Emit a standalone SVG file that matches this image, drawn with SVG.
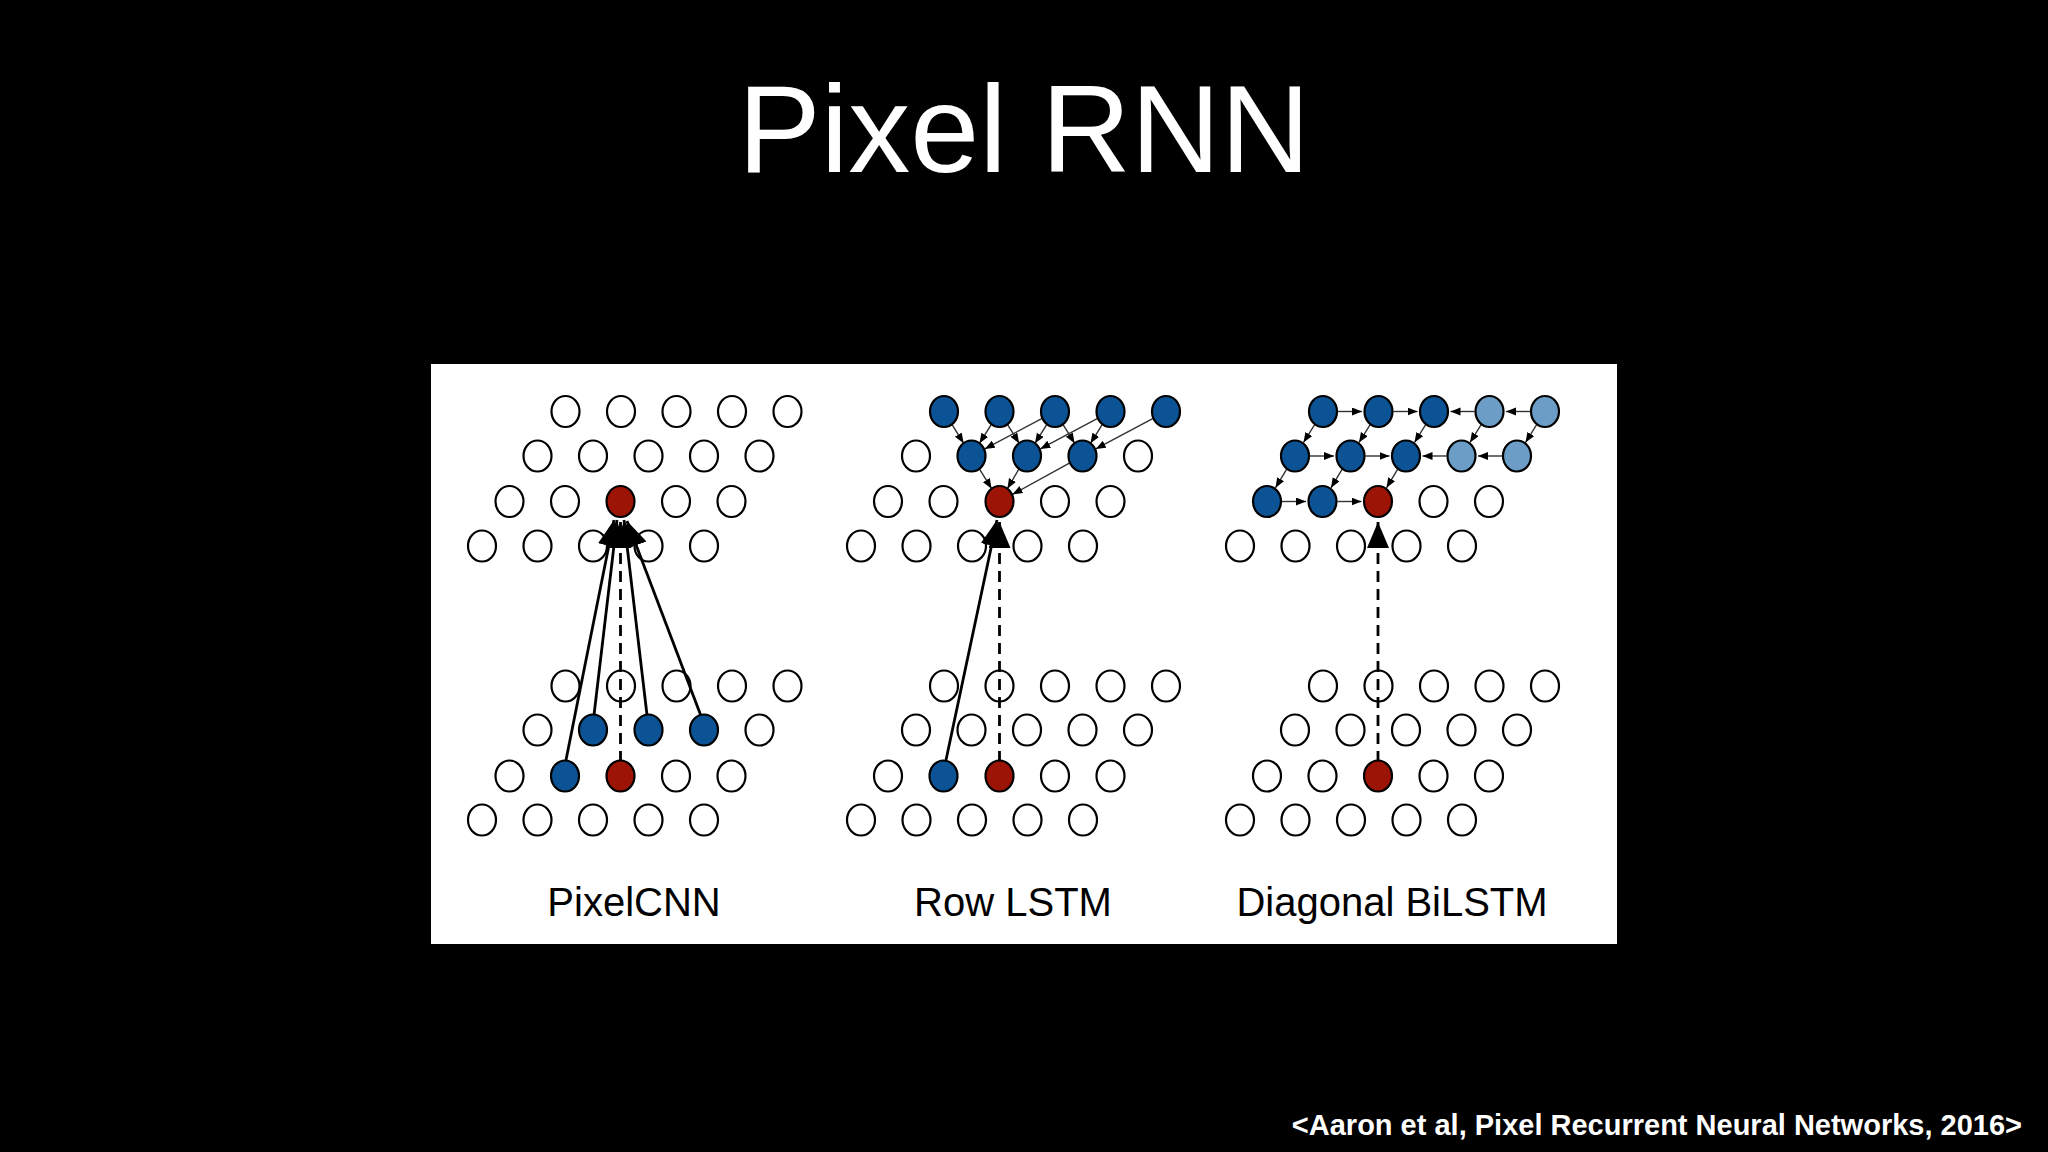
<svg xmlns="http://www.w3.org/2000/svg" width="2048" height="1152" viewBox="0 0 2048 1152">
<defs>
<style>
.n{stroke:#000;stroke-width:2.2}
.w{fill:#fff}.b{fill:#0b5394}.l{fill:#6b9dc6}.r{fill:#9b1405}
.big{stroke:#000;stroke-width:2.8;fill:none}
.dash{stroke:#000;stroke-width:2.8;fill:none;stroke-dasharray:11,7}
.sm{stroke:#333;stroke-width:1.4;fill:none}
.lab{font-family:"Liberation Sans",Arial,sans-serif;font-size:40px;fill:#000;text-anchor:middle}
</style>
<marker id="bh" markerUnits="userSpaceOnUse" markerWidth="30" markerHeight="24" refX="26" refY="11" orient="auto"><path d="M0,0 L26,11 L0,22 z" fill="#000"/></marker>
<marker id="sh" markerUnits="userSpaceOnUse" markerWidth="12" markerHeight="10" refX="10" refY="4" orient="auto"><path d="M0,0 L10,4 L0,8 z" fill="#000"/></marker>
</defs>
<rect width="2048" height="1152" fill="#000"/>
<text x="1024" y="172" font-family="Liberation Sans,Arial,sans-serif" font-size="124" fill="#fff" text-anchor="middle">Pixel RNN</text>
<rect x="431" y="364" width="1186" height="580" fill="#fff"/>

<g id="connectors">
<!-- PixelCNN -->
<line class="dash" x1="620.5" y1="762" x2="620.5" y2="522" marker-end="url(#bh)"/>
<line class="big" x1="566" y1="760" x2="614" y2="520" marker-end="url(#bh)"/>
<line class="big" x1="594" y1="715" x2="617" y2="520" marker-end="url(#bh)"/>
<line class="big" x1="647" y1="715" x2="624" y2="520" marker-end="url(#bh)"/>
<line class="big" x1="701" y1="716" x2="627" y2="521" marker-end="url(#bh)"/>
<!-- Row LSTM -->
<line class="dash" x1="999.5" y1="762" x2="999.5" y2="522" marker-end="url(#bh)"/>
<line class="big" x1="946" y1="760" x2="997" y2="520" marker-end="url(#bh)"/>
<line class="sm" x1="951.9" y1="424.3" x2="963.6" y2="443.2" marker-end="url(#sh)"/>
<line class="sm" x1="991.5" y1="424.2" x2="979.5" y2="443.3" marker-end="url(#sh)"/>
<line class="sm" x1="1041.7" y1="418.6" x2="984.8" y2="448.9" marker-end="url(#sh)"/>
<line class="sm" x1="1007.4" y1="424.3" x2="1019.1" y2="443.2" marker-end="url(#sh)"/>
<line class="sm" x1="1047" y1="424.2" x2="1035" y2="443.3" marker-end="url(#sh)"/>
<line class="sm" x1="1097.2" y1="418.6" x2="1040.3" y2="448.9" marker-end="url(#sh)"/>
<line class="sm" x1="1062.9" y1="424.3" x2="1074.6" y2="443.2" marker-end="url(#sh)"/>
<line class="sm" x1="1102.5" y1="424.2" x2="1090.5" y2="443.3" marker-end="url(#sh)"/>
<line class="sm" x1="1152.7" y1="418.6" x2="1095.8" y2="448.9" marker-end="url(#sh)"/>
<line class="sm" x1="979.4" y1="468.8" x2="991.6" y2="488.7" marker-end="url(#sh)"/>
<line class="sm" x1="1019" y1="468.8" x2="1007.4" y2="488.7" marker-end="url(#sh)"/>
<line class="sm" x1="1069.4" y1="463.2" x2="1012.6" y2="494.3" marker-end="url(#sh)"/>
<!-- Diagonal BiLSTM -->
<line class="dash" x1="1378" y1="762" x2="1378" y2="522" marker-end="url(#bh)"/>
<line class="sm" x1="1338" y1="411.5" x2="1362" y2="411.5" marker-end="url(#sh)"/>
<line class="sm" x1="1393.5" y1="411.5" x2="1417.5" y2="411.5" marker-end="url(#sh)"/>
<line class="sm" x1="1474.5" y1="411.5" x2="1450.5" y2="411.5" marker-end="url(#sh)"/>
<line class="sm" x1="1530" y1="411.5" x2="1506" y2="411.5" marker-end="url(#sh)"/>
<line class="sm" x1="1310" y1="456" x2="1334" y2="456" marker-end="url(#sh)"/>
<line class="sm" x1="1365.5" y1="456" x2="1389.5" y2="456" marker-end="url(#sh)"/>
<line class="sm" x1="1446.5" y1="456" x2="1422.5" y2="456" marker-end="url(#sh)"/>
<line class="sm" x1="1502" y1="456" x2="1478" y2="456" marker-end="url(#sh)"/>
<line class="sm" x1="1282" y1="501.5" x2="1306" y2="501.5" marker-end="url(#sh)"/>
<line class="sm" x1="1337.5" y1="501.5" x2="1361.5" y2="501.5" marker-end="url(#sh)"/>
<line class="sm" x1="1315" y1="424.2" x2="1303.5" y2="442.5" marker-end="url(#sh)"/>
<line class="sm" x1="1370.5" y1="424.2" x2="1359" y2="442.5" marker-end="url(#sh)"/>
<line class="sm" x1="1426" y1="424.2" x2="1414.5" y2="442.5" marker-end="url(#sh)"/>
<line class="sm" x1="1481.5" y1="424.2" x2="1470" y2="442.5" marker-end="url(#sh)"/>
<line class="sm" x1="1537" y1="424.2" x2="1525.5" y2="442.5" marker-end="url(#sh)"/>
<line class="sm" x1="1287" y1="468.7" x2="1275.5" y2="487.8" marker-end="url(#sh)"/>
<line class="sm" x1="1342.5" y1="468.7" x2="1331" y2="487.8" marker-end="url(#sh)"/>
<line class="sm" x1="1398" y1="468.7" x2="1386.5" y2="487.8" marker-end="url(#sh)"/>
</g>

<g id="pixelcnn">
<g id="pc-top">
<ellipse class="n w" cx="565.5" cy="411.5" rx="14" ry="15.5"/><ellipse class="n w" cx="621" cy="411.5" rx="14" ry="15.5"/><ellipse class="n w" cx="676.5" cy="411.5" rx="14" ry="15.5"/><ellipse class="n w" cx="732" cy="411.5" rx="14" ry="15.5"/><ellipse class="n w" cx="787.5" cy="411.5" rx="14" ry="15.5"/>
<ellipse class="n w" cx="537.5" cy="456" rx="14" ry="15.5"/><ellipse class="n w" cx="593" cy="456" rx="14" ry="15.5"/><ellipse class="n w" cx="648.5" cy="456" rx="14" ry="15.5"/><ellipse class="n w" cx="704" cy="456" rx="14" ry="15.5"/><ellipse class="n w" cx="759.5" cy="456" rx="14" ry="15.5"/>
<ellipse class="n w" cx="509.5" cy="501.5" rx="14" ry="15.5"/><ellipse class="n w" cx="565" cy="501.5" rx="14" ry="15.5"/><ellipse class="n r" cx="620.5" cy="501.5" rx="14" ry="15.5"/><ellipse class="n w" cx="676" cy="501.5" rx="14" ry="15.5"/><ellipse class="n w" cx="731.5" cy="501.5" rx="14" ry="15.5"/>
<ellipse class="n w" cx="482" cy="546" rx="14" ry="15.5" fill-opacity="0"/><ellipse class="n" fill="none" cx="537.5" cy="546" rx="14" ry="15.5"/><ellipse class="n" fill="none" cx="593" cy="546" rx="14" ry="15.5"/><ellipse class="n" fill="none" cx="648.5" cy="546" rx="14" ry="15.5"/><ellipse class="n" fill="none" cx="704" cy="546" rx="14" ry="15.5"/>
</g>
<g id="pc-bottom">
<ellipse class="n" fill="none" cx="565.5" cy="686" rx="14" ry="15.5"/><ellipse class="n" fill="none" cx="621" cy="686" rx="14" ry="15.5"/><ellipse class="n" fill="none" cx="676.5" cy="686" rx="14" ry="15.5"/><ellipse class="n w" cx="732" cy="686" rx="14" ry="15.5"/><ellipse class="n w" cx="787.5" cy="686" rx="14" ry="15.5"/>
<ellipse class="n w" cx="537.5" cy="730" rx="14" ry="15.5"/><ellipse class="n b" cx="593" cy="730" rx="14" ry="15.5"/><ellipse class="n b" cx="648.5" cy="730" rx="14" ry="15.5"/><ellipse class="n b" cx="704" cy="730" rx="14" ry="15.5"/><ellipse class="n w" cx="759.5" cy="730" rx="14" ry="15.5"/>
<ellipse class="n w" cx="509.5" cy="776" rx="14" ry="15.5"/><ellipse class="n b" cx="565" cy="776" rx="14" ry="15.5"/><ellipse class="n r" cx="620.5" cy="776" rx="14" ry="15.5"/><ellipse class="n w" cx="676" cy="776" rx="14" ry="15.5"/><ellipse class="n w" cx="731.5" cy="776" rx="14" ry="15.5"/>
<ellipse class="n w" cx="482" cy="820" rx="14" ry="15.5"/><ellipse class="n w" cx="537.5" cy="820" rx="14" ry="15.5"/><ellipse class="n w" cx="593" cy="820" rx="14" ry="15.5"/><ellipse class="n w" cx="648.5" cy="820" rx="14" ry="15.5"/><ellipse class="n w" cx="704" cy="820" rx="14" ry="15.5"/>
</g>
<text class="lab" x="634" y="916">PixelCNN</text>
</g>

<g id="rowlstm">
<g id="rl-top">
<ellipse class="n b" cx="944" cy="411.5" rx="14" ry="15.5"/><ellipse class="n b" cx="999.5" cy="411.5" rx="14" ry="15.5"/><ellipse class="n b" cx="1055" cy="411.5" rx="14" ry="15.5"/><ellipse class="n b" cx="1110.5" cy="411.5" rx="14" ry="15.5"/><ellipse class="n b" cx="1166" cy="411.5" rx="14" ry="15.5"/>
<ellipse class="n w" cx="916" cy="456" rx="14" ry="15.5"/><ellipse class="n b" cx="971.5" cy="456" rx="14" ry="15.5"/><ellipse class="n b" cx="1027" cy="456" rx="14" ry="15.5"/><ellipse class="n b" cx="1082.5" cy="456" rx="14" ry="15.5"/><ellipse class="n w" cx="1138" cy="456" rx="14" ry="15.5"/>
<ellipse class="n w" cx="888" cy="501.5" rx="14" ry="15.5"/><ellipse class="n w" cx="943.5" cy="501.5" rx="14" ry="15.5"/><ellipse class="n r" cx="999.5" cy="501.5" rx="14" ry="15.5"/><ellipse class="n w" cx="1055" cy="501.5" rx="14" ry="15.5"/><ellipse class="n w" cx="1110.5" cy="501.5" rx="14" ry="15.5"/>
<ellipse class="n w" cx="861" cy="546" rx="14" ry="15.5"/><ellipse class="n w" cx="916.5" cy="546" rx="14" ry="15.5"/><ellipse class="n" fill="none" cx="972" cy="546" rx="14" ry="15.5"/><ellipse class="n" fill="none" cx="1027.5" cy="546" rx="14" ry="15.5"/><ellipse class="n w" cx="1083" cy="546" rx="14" ry="15.5"/>
</g>
<g id="rl-bottom">
<ellipse class="n" fill="none" cx="944" cy="686" rx="14" ry="15.5"/><ellipse class="n" fill="none" cx="999.5" cy="686" rx="14" ry="15.5"/><ellipse class="n w" cx="1055" cy="686" rx="14" ry="15.5"/><ellipse class="n w" cx="1110.5" cy="686" rx="14" ry="15.5"/><ellipse class="n w" cx="1166" cy="686" rx="14" ry="15.5"/>
<ellipse class="n w" cx="916" cy="730" rx="14" ry="15.5"/><ellipse class="n" fill="none" cx="971.5" cy="730" rx="14" ry="15.5"/><ellipse class="n" fill="none" cx="1027" cy="730" rx="14" ry="15.5"/><ellipse class="n w" cx="1082.5" cy="730" rx="14" ry="15.5"/><ellipse class="n w" cx="1138" cy="730" rx="14" ry="15.5"/>
<ellipse class="n w" cx="888" cy="776" rx="14" ry="15.5"/><ellipse class="n b" cx="943.5" cy="776" rx="14" ry="15.5"/><ellipse class="n r" cx="999.5" cy="776" rx="14" ry="15.5"/><ellipse class="n w" cx="1055" cy="776" rx="14" ry="15.5"/><ellipse class="n w" cx="1110.5" cy="776" rx="14" ry="15.5"/>
<ellipse class="n w" cx="861" cy="820" rx="14" ry="15.5"/><ellipse class="n w" cx="916.5" cy="820" rx="14" ry="15.5"/><ellipse class="n w" cx="972" cy="820" rx="14" ry="15.5"/><ellipse class="n w" cx="1027.5" cy="820" rx="14" ry="15.5"/><ellipse class="n w" cx="1083" cy="820" rx="14" ry="15.5"/>
</g>
<text class="lab" x="1013" y="916">Row LSTM</text>
</g>

<g id="diagbilstm">
<g id="db-top">
<ellipse class="n b" cx="1323" cy="411.5" rx="14" ry="15.5"/><ellipse class="n b" cx="1378.5" cy="411.5" rx="14" ry="15.5"/><ellipse class="n b" cx="1434" cy="411.5" rx="14" ry="15.5"/><ellipse class="n l" cx="1489.5" cy="411.5" rx="14" ry="15.5"/><ellipse class="n l" cx="1545" cy="411.5" rx="14" ry="15.5"/>
<ellipse class="n b" cx="1295" cy="456" rx="14" ry="15.5"/><ellipse class="n b" cx="1350.5" cy="456" rx="14" ry="15.5"/><ellipse class="n b" cx="1406" cy="456" rx="14" ry="15.5"/><ellipse class="n l" cx="1461.5" cy="456" rx="14" ry="15.5"/><ellipse class="n l" cx="1517" cy="456" rx="14" ry="15.5"/>
<ellipse class="n b" cx="1267" cy="501.5" rx="14" ry="15.5"/><ellipse class="n b" cx="1322.5" cy="501.5" rx="14" ry="15.5"/><ellipse class="n r" cx="1378" cy="501.5" rx="14" ry="15.5"/><ellipse class="n w" cx="1433.5" cy="501.5" rx="14" ry="15.5"/><ellipse class="n w" cx="1489" cy="501.5" rx="14" ry="15.5"/>
<ellipse class="n w" cx="1240" cy="546" rx="14" ry="15.5"/><ellipse class="n w" cx="1295.5" cy="546" rx="14" ry="15.5"/><ellipse class="n" fill="none" cx="1351" cy="546" rx="14" ry="15.5"/><ellipse class="n" fill="none" cx="1406.5" cy="546" rx="14" ry="15.5"/><ellipse class="n w" cx="1462" cy="546" rx="14" ry="15.5"/>
</g>
<g id="db-bottom">
<ellipse class="n w" cx="1323" cy="686" rx="14" ry="15.5"/><ellipse class="n" fill="none" cx="1378.5" cy="686" rx="14" ry="15.5"/><ellipse class="n w" cx="1434" cy="686" rx="14" ry="15.5"/><ellipse class="n w" cx="1489.5" cy="686" rx="14" ry="15.5"/><ellipse class="n w" cx="1545" cy="686" rx="14" ry="15.5"/>
<ellipse class="n w" cx="1295" cy="730" rx="14" ry="15.5"/><ellipse class="n" fill="none" cx="1350.5" cy="730" rx="14" ry="15.5"/><ellipse class="n" fill="none" cx="1406" cy="730" rx="14" ry="15.5"/><ellipse class="n w" cx="1461.5" cy="730" rx="14" ry="15.5"/><ellipse class="n w" cx="1517" cy="730" rx="14" ry="15.5"/>
<ellipse class="n w" cx="1267" cy="776" rx="14" ry="15.5"/><ellipse class="n w" cx="1322.5" cy="776" rx="14" ry="15.5"/><ellipse class="n r" cx="1378" cy="776" rx="14" ry="15.5"/><ellipse class="n w" cx="1433.5" cy="776" rx="14" ry="15.5"/><ellipse class="n w" cx="1489" cy="776" rx="14" ry="15.5"/>
<ellipse class="n w" cx="1240" cy="820" rx="14" ry="15.5"/><ellipse class="n w" cx="1295.5" cy="820" rx="14" ry="15.5"/><ellipse class="n w" cx="1351" cy="820" rx="14" ry="15.5"/><ellipse class="n w" cx="1406.5" cy="820" rx="14" ry="15.5"/><ellipse class="n w" cx="1462" cy="820" rx="14" ry="15.5"/>
</g>
<text class="lab" x="1392" y="916">Diagonal BiLSTM</text>
</g>

<text x="2022" y="1135" font-family="Liberation Sans,Arial,sans-serif" font-size="29" font-weight="bold" fill="#fff" text-anchor="end">&lt;Aaron et al, Pixel Recurrent Neural Networks, 2016&gt;</text>
</svg>
